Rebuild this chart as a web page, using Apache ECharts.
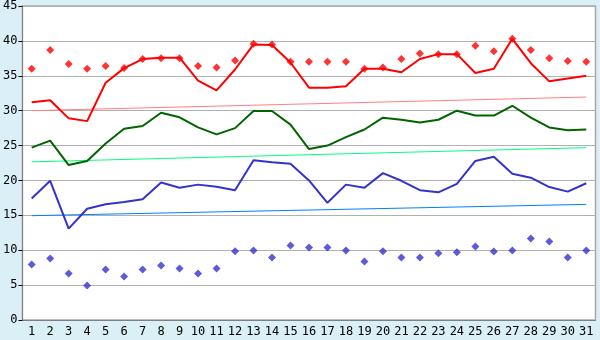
<!DOCTYPE html>
<html><head><meta charset="utf-8">
<script src="https://cdn.jsdelivr.net/npm/echarts@6/dist/echarts.min.js"></script>
<style>html,body{margin:0;padding:0;background:#DAEFF6;}#c{width:600px;height:340px;}</style>
</head><body><div id="c"></div>
<script>
const days = ['1','2','3','4','5','6','7','8','9','10','11','12','13','14','15','16','17','18','19','20','21','22','23','24','25','26','27','28','29','30','31'];
const yTicks = [0,5,10,15,20,25,30,35,40,45];
const highLine = [31.2,31.5,28.9,28.5,34.0,36.1,37.4,37.6,37.6,34.3,32.9,35.9,39.5,39.4,36.9,33.3,33.3,33.5,36.0,36.0,35.5,37.4,38.1,38.1,35.4,36.0,40.3,36.8,34.2,34.6,35.0];
const highRecord = [36.0,38.7,36.7,36.0,36.4,36.1,37.4,37.5,37.5,36.4,36.2,37.2,39.6,39.5,37.0,37.0,37.0,37.0,36.0,36.2,37.4,38.2,38.1,38.1,39.3,38.5,40.3,38.7,37.5,37.1,37.0];
const meanLine = [24.7,25.7,22.2,22.8,25.3,27.4,27.8,29.7,29.05,27.6,26.6,27.5,29.95,29.95,28.0,24.5,25.0,26.2,27.3,29.0,28.7,28.3,28.7,30.0,29.3,29.3,30.7,29.0,27.6,27.2,27.3];
const lowLine = [17.4,19.95,13.1,15.95,16.6,16.9,17.3,19.7,18.95,19.4,19.1,18.6,22.9,22.6,22.4,20.0,16.8,19.4,18.95,21.05,19.95,18.6,18.3,19.5,22.8,23.4,20.95,20.4,19.05,18.4,19.6];
const lowRecord = [7.95,8.8,6.67,4.95,7.24,6.24,7.24,7.8,7.38,6.67,7.38,9.86,9.95,8.95,10.67,10.38,10.38,9.95,8.38,9.86,8.95,8.95,9.57,9.71,10.52,9.81,9.95,11.67,11.24,8.95,9.95];
const normalHigh = [30.0,31.95];
const normalMean = [22.67,24.7];
const normalLow = [14.95,16.57];

const first = days[0], last = days[days.length-1];
function trend(v){ return [[first, v[0]],[last, v[1]]]; }

const chart = echarts.init(document.getElementById('c'), null, {renderer:'canvas'});
const font = 'DejaVu Sans Mono';
chart.setOption({
  animation:false,
  backgroundColor:'#DAEFF6',
  grid:{left:20.5,right:4.5,top:5.5,bottom:20,show:true,backgroundColor:'#ffffff',borderColor:'#A8A8A8',borderWidth:1.5},
  xAxis:{type:'category',data:days,boundaryGap:true,
    axisLine:{lineStyle:{color:'#808080',width:1}},
    axisTick:{alignWithLabel:true,length:4,lineStyle:{color:'#000'}},
    axisLabel:{color:'#000',fontFamily:font,fontSize:12,margin:6,interval:0},
    splitLine:{show:false}},
  yAxis:{type:'value',min:yTicks[0],max:yTicks[yTicks.length-1],interval:5,
    axisLine:{show:true,lineStyle:{color:'#808080'}},
    axisTick:{show:true,length:4,lineStyle:{color:'#000'}},
    axisLabel:{color:'#000',fontFamily:font,fontSize:12,margin:5},
    splitLine:{lineStyle:{color:'#B0B0B0',width:1}}},
  series:[
    {type:'line',data:trend(normalHigh),symbol:'none',lineStyle:{color:'#FF8080',width:1},z:2},
    {type:'line',data:trend(normalMean),symbol:'none',lineStyle:{color:'#00FF80',width:1},z:2},
    {type:'line',data:trend(normalLow),symbol:'none',lineStyle:{color:'#0080FF',width:1},z:2},
    {type:'line',data:highLine,symbol:'none',lineStyle:{color:'#FF0000',width:2},z:3},
    {type:'line',data:meanLine,symbol:'none',lineStyle:{color:'#006400',width:2},z:3},
    {type:'line',data:lowLine,symbol:'none',lineStyle:{color:'#3333CC',width:2},z:3},
    {type:'scatter',data:highRecord,symbol:'diamond',symbolSize:8,itemStyle:{color:'#FF0000'},z:4},
    {type:'scatter',data:lowRecord,symbol:'diamond',symbolSize:8,itemStyle:{color:'#3333CC'},z:4}
  ]
});
</script></body></html>
